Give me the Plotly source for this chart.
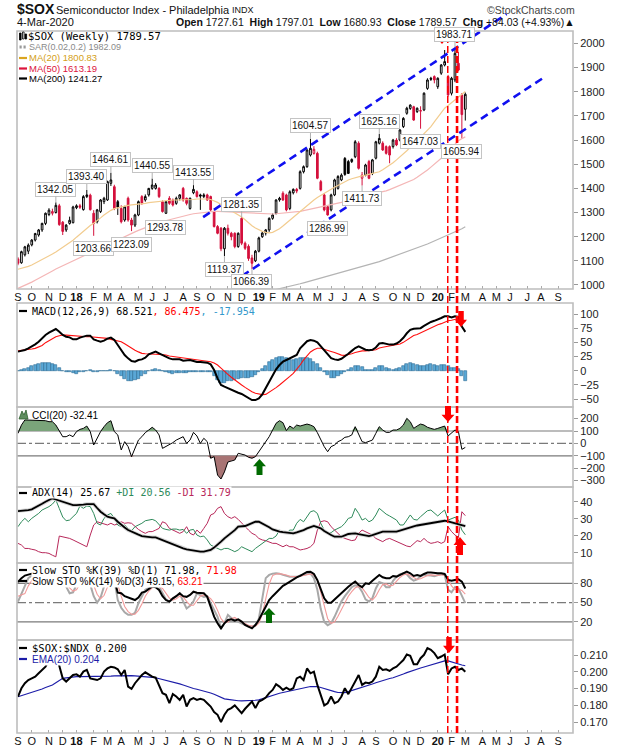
import plotly.graph_objects as go
import pandas as pd

N = 131
dates = pd.date_range("2017-09-04", periods=N, freq="7D")

opens = [1108,1092,1125,1140,1166,1186,1207,1228,1255,1292,
         1297,1300,1328,1260,1228,1255,1258,1320,1328,1312,
         1366,1372,1297,1262,1304,1345,1352,1421,1407,1345,
         1317,1269,1359,1269,1248,1290,1366,1352,1373,1400,
         1400,1400,1345,1297,1359,1352,1338,1359,1400,1359,
         1317,1382,1386,1373,1366,1373,1366,1304,1242,1235,
         1150,1235,1214,1214,1159,1276,1173,1160,1112,1100,
         1140,1200,1215,1228,1276,1297,1352,1380,1373,1317,
         1382,1396,1400,1469,1490,1538,1545,1545,1428,1373,
         1324,1311,1373,1400,1435,1524,1511,1511,1531,1587,
         1442,1455,1511,1462,1525,1587,1587,1573,1573,1573,
         1600,1600,1656,1711,1731,1738,1718,1720,1725,1814,
         1856,1863,1821,1877,1911,1863,1794,1849,1918,1787,
         1727.61]
highs = [1115,1142,1162,1172,1190,1216,1232,1258,1300,1318,
         1316,1342.05,1336,1265,1252,1283,1328,1334,1336,1372,
         1393.40,1378,1310,1315,1356,1365,1432,1464.61,1415,1352,
         1330,1328,1366,1278,1295,1350,1372,1375,1402,1440.55,
         1422,1405,1350,1348,1368,1358,1366,1376,1406,1362,
         1362,1413.55,1392,1378,1380,1378,1370,1308,1248,1240,
         1240,1250,1220,1218,1218,1281.35,1180,1168,1125,1145,
         1200,1222,1232,1280,1296,1355,1365,1388,1378,1392,
         1400,1402,1475,1495,1562,1604.57,1575,1552,1435,1380,
         1330,1378,1440,1455,1462,1530,1518,1524,1600,1595,
         1468,1502,1518,1522,1597,1625.16,1595,1578,1578,1605,
         1608,1645,1695,1738,1748,1742,1735,1740,1798,1856,
         1862,1868,1860,1915,1973,1870,1862,1983.71,1965,1795,
         1797.01]
lows = [1082,1088,1118,1128,1160,1180,1200,1220,1248,1285,
        1288,1296,1245,1207,1220,1250,1255,1314,1315,1308,
        1360,1308,1203.66,1255,1298,1335,1348,1410,1310,1290,
        1255,1262,1262,1223.09,1240,1285,1332,1345,1366,1394,
        1395,1360,1300,1293.78,1332,1325,1332,1350,1345,1330,
        1312,1376,1362,1311,1360,1348,1305,1238,1210,1140,
        1119.37,1205,1185,1152,1154,1165,1145,1100,1066.39,1095,
        1135,1195,1205,1220,1270,1292,1345,1348,1305,1310,
        1375,1380,1395,1462,1485,1532,1540,1438,1388,1305,
        1286.99,1305,1368,1395,1430,1452,1460,1505,1525,1478,
        1411.73,1450,1438,1455,1520,1582,1555,1540,1504,1565,
        1575,1595,1650,1705,1725,1680,1712,1647.03,1720,1808,
        1845,1835,1812,1870,1905,1780,1785,1840,1885,1605.94,
        1680.93]
closes = [1090,1138,1158,1165,1186,1213,1228,1255,1297,1310,
          1304,1330,1250,1222,1248,1268,1323,1328,1322,1366,
          1373,1312,1255,1311,1352,1359,1428,1435,1317,1322,
          1262,1324,1269,1248,1290,1345,1338,1366,1400,1414,
          1414,1366,1304,1345,1338,1331,1359,1373,1352,1338,
          1359,1396,1366,1368,1373,1352,1311,1242,1214,1150,
          1235,1214,1200,1159,1214,1173,1152,1110,1090,1140,
          1195,1215,1228,1276,1290,1352,1359,1352,1311,1386,
          1396,1389,1469,1490,1559,1566,1562,1442,1393,1311,
          1290,1373,1435,1449,1455,1458,1462,1520,1593,1483,
          1455,1497,1442,1518,1593,1607,1559,1545,1538,1600,
          1580,1642,1690,1732,1745,1683,1732,1722,1794,1849,
          1852,1849,1856,1911,1925,1787,1856,1959,1890,1705.54,
          1789.57]
ma20 = [1065,1068,1072,1077,1083,1090,1097,1105,1113,1120,
        1128,1137,1146,1155,1164,1173,1185,1198,1211,1223,
        1235,1246,1256,1266,1278,1290,1300,1309,1316,1320,
        1324,1327,1330,1332,1333,1334,1336,1338,1341,1343,
        1345,1347,1349,1350,1351,1352,1352,1352,1353,1353,
        1352,1354,1356,1357,1357,1356,1354,1349,1342,1333,
        1325,1316,1307,1298,1290,1282,1270,1257,1245,1236,
        1228,1222,1218,1216,1218,1224,1233,1244,1256,1268,
        1283,1294,1306,1318,1330,1341,1352,1362,1370,1377,
        1385,1396,1405,1413,1421,1428,1435,1440,1445,1450,
        1452,1455,1458,1462,1465,1469,1477,1486,1495,1506,
        1518,1530,1543,1556,1570,1587,1600,1612,1626,1640,
        1656,1675,1695,1714,1732,1743,1754,1766,1778,1788,
        1800.83]
ma50 = [986,992,998,1005,1012,1020,1027,1035,1042,1050,
        1058,1066,1073,1080,1086,1092,1099,1106,1113,1120,
        1127,1134,1140,1146,1153,1159,1166,1173,1180,1186,
        1193,1199,1206,1213,1220,1226,1232,1238,1244,1250,
        1255,1259,1263,1267,1271,1275,1279,1283,1286,1289,
        1292,1295,1297,1299,1301,1303,1304,1305,1305,1305,
        1305,1304,1303,1302,1301,1300,1299,1298,1297,1296,
        1295,1294,1294,1294,1294,1295,1296,1297,1298,1300,
        1301,1303,1305,1308,1311,1314,1317,1320,1322,1325,
        1327,1330,1334,1338,1342,1347,1352,1356,1360,1364,
        1368,1371,1374,1377,1379,1381,1385,1390,1395,1401,
        1407,1413,1419,1425,1430,1437,1446,1455,1465,1476,
        1488,1500,1512,1525,1540,1555,1570,1584,1597,1606,
        1613.19]
ma200 = [None] * 74 + [978,981,984,987,990,994,998,1001,1005,1009,
                       1013,1017,1021,1025,1029,1033,1037,1041,1044,1048,
                       1051,1055,1058,1062,1066,1070,1074,1078,1082,1087,
                       1092,1097,1102,1107,1112,1117,1122,1127,1132,1138,
                       1143,1148,1154,1159,1165,1170,1176,1182,1188,1194,
                       1200,1206,1212,1218,1225,1233,1241.27]
macd_line = [33.6,34.7,36.5,39.4,42.4,46.5,51.2,57.1,63.0,67.0,
             70.6,73.5,68.8,63.0,60.0,58.8,55.3,55.3,58.3,60.0,
             61.8,61.8,55.3,53.0,51.2,53.0,56.5,58.3,54.1,45.3,
             35.3,27.7,21.8,17.1,15.9,18.9,20.0,23.0,28.9,31.8,
             33.6,30.6,27.7,23.6,21.8,20.0,20.0,20.0,17.7,17.7,
             18.9,17.1,15.3,15.3,14.7,14.1,11.2,1.2,-13.5,-25.2,
             -28.2,-31.1,-34.0,-37.0,-38.8,-41.1,-44.6,-48.8,-51.7,-51.7,
             -48.8,-41.7,-31.1,-19.4,-7.6,2.4,10.0,15.9,18.9,21.8,
             23.6,27.7,39.4,45,52,54,53,50,43,36,
             28,22,20,19,21,25,30,35,40,43,
             40,37,36,37,41,48,49,47,46,46,
             48,52,58,66,72,74,74,75,79,83,
             86,88,90,93,96,96,94,96,95,78,
             68.521]
macd_signal = [35.3,35.8,36.5,37.3,38.3,39.4,41.5,44.5,49.4,52.8,
               56.5,60.0,61.8,63.0,62.8,62.2,61.2,60.8,60.5,60.2,
               60.0,59.8,59.4,58.9,58.3,57.7,57.0,55.3,54.2,52.8,
               51.2,47.5,43.5,39.4,36.2,33.2,30.6,29.8,29.2,28.9,
               28.9,28.8,28.5,27.8,25.9,25.0,24.0,23.0,21.8,21.0,
               20.5,19.7,18.9,18.3,17.6,16.8,15.9,13.5,10.0,4.5,
               -1.7,-6.6,-11.6,-16.5,-20.9,-25.2,-29.4,-33.5,-37.0,-39.8,
               -41.7,-42.2,-41.7,-38.2,-34.0,-29.8,-25.2,-20.5,-15.2,-10.0,
               -4.7,2.5,10.0,19,27,33,37,39.5,39.5,38,
               36,34,32,29.5,27.5,27,28,30,32,34,
               35,35,35,36,37,40,41.5,42.5,43,44,
               45,47,50,54,59,62,64,67,70,73,
               75,78,81,83,86,88,89,91,92,88,
               86.475]
macd_hist = [0,1.5,3,4.7,7.5,10,12,13.5,13.5,13.5,
             12,10,4.7,0,-1.5,-2.5,-4,-5,-3,-1.5,
             0,1.5,-1.5,-2.5,-1,0,0,2,-1,-5,
             -10,-14,-17.6,-19,-17,-14.7,-10,-5,-1,2,
             3.5,1.5,-0.5,-3,-4,-5,-4,-3.5,-4,-4,
             -3,-3,-3,-2.5,-2,-1.5,-3,-9,-16,-22,
             -21,-19,-18,-16,-15,-13,-12,-12,-11,-7,
             -3,3,9,14.7,19,22,23.6,23.6,22,20,
             19,20,22,22,22,20,16,11,4,-2,
             -8,-12,-12,-10,-6,-2,2,5,8,9,
             6,2,1,1,4,8,8,5,3,2,
             3,5,8,12,13,12,10,8,9,10,
             11,10,9,10,10,8,5,5,3,-10,
             -17.954]
cci20 = [81,148,189,189,189,189,189,189,183,175,
         175,148,95,54,54,68,54,95,113,121,
         140,95,-13,41,95,135,167,183,95,68,
         -53,14,-26,-107,-40,27,54,87,108,130,
         108,68,-40,-26,-13,6,27,41,54,0,
         27,89,60,0,41,14,-120,-107,-255,-287,
         -230,-150,-140,-134,-80,-86,-94,-112,-120,-107,
         -67,-26,14,54,108,162,183,167,103,140,
         121,148,140,148,156,148,135,87,27,-26,
         -67,-26,-13,14,27,49,54,68,135,68,
         14,6,14,27,81,135,108,89,89,108,
         108,121,148,202,175,121,140,156,148,130,
         121,113,121,130,140,60,81,108,95,-48,
         -32.41]
adx14 = [34.5,34.6,34.7,35.1,35.5,36.5,37.5,38.8,40,41,
         42,41.3,40.6,39.8,39,38.5,38,38,38,38.3,
         38.6,38.6,38.6,36.3,34.1,32.6,31.2,30.7,30.2,28.2,
         26.3,24.8,23.3,22.3,21.4,20.6,19.8,19.4,19,19,
         19,18.2,17.5,16.5,15.5,14.7,13.9,13.2,12.5,12,
         11.6,11.1,10.6,10.6,10.6,11.1,11.6,13,14.5,16.5,
         18.4,19.9,21.4,23.3,25.3,25.5,25.7,26.5,27.3,28.2,
         28.2,27.2,26.3,25,23.7,23,22.4,22.1,21.8,21.6,
         21.4,21.9,22.4,23.3,24.3,25,25.7,25,24.3,22.8,
         21.4,20.4,19.4,19.4,19.4,20.2,21,21.2,21.4,20.9,
         20.4,20.1,19.8,20.4,21,21.7,22.4,22.4,22.4,22.4,
         22.4,23,23.7,24.3,25,25.5,26,26.4,26.8,27.2,
         27.6,28,28.3,28.6,28.8,28.4,27.8,27.2,26.6,26.1,
         25.67]
plus_di = [25.3,28.2,30.2,28.2,30.2,31.6,33.1,35.1,36.1,37.1,
           38.6,41,36,31,28.8,29.2,31.2,33.1,37.5,36.1,
           37.5,37.1,33.1,27.3,26.3,30.2,32.2,33.1,30.2,26.3,
           25.3,26.3,24.3,22.9,25.3,26.3,27.3,28.8,29.2,29.6,
           28.8,26.3,24.3,23.7,23.3,23.9,23.9,23.3,23.7,21.4,
           23.3,23.7,20.4,19.4,19.8,17.5,14.5,13.5,12.5,11.6,
           12.5,12.5,11.6,10.6,11.6,13.5,12.5,11.6,10.6,12.5,
           13.9,15.5,16.5,18.4,18.4,19.8,23.3,22.4,21.4,23.3,
           23.3,27.3,29.6,28.2,31.2,34.1,34.7,33.1,27.3,23.3,
           21.4,21.8,23.3,24.3,25.3,27.3,30.2,30.8,36.1,33.1,
           29.2,30.2,28.2,29.2,32.2,36.1,34.1,32.7,31.6,30.2,
           29.2,26.3,26.3,29.2,32.2,29.6,29.2,31.2,33.1,34.7,
           35.1,33.1,31.6,33.5,35.1,29.2,30.2,30.8,29.2,23.3,
           20.56]
minus_di = [15.5,14.5,12.5,12.5,12,11.6,10.6,10,10,9.6,
            8.5,7.6,19.8,19.4,19.0,18.4,17.5,16.5,15.5,14.5,
            13.5,20.4,26.3,28.2,27.6,27.3,26.3,27.3,26.3,26.9,
            28.2,27.3,27.6,27.3,25.3,23.7,22.4,21.4,22.4,22.4,
            23.3,24.3,28.2,27.3,24.3,23.3,22.4,21.4,22.4,25.3,
            21.4,20.4,23.3,21.4,24.3,27.3,32.2,33.1,36.1,37.1,
            33.1,31.2,30.2,31.2,29.6,27.3,25.3,23.3,21.4,20.4,
            18.4,17.5,17.1,16.5,15.5,15.5,14.5,13.5,14.5,13.5,
            13.5,12.5,11.6,12,12.5,13.5,15.5,23.3,28.2,28.8,
            28.2,25.3,23.3,21,19.4,18.4,17.8,17.1,17.5,21.4,
            23.3,22.4,21.4,20.4,18.4,17.5,16.5,17.8,18.4,17.5,
            16.5,15.5,14.5,13.9,13.5,15.5,17.1,16.5,18.4,16.5,
            15.5,15.9,16.5,15.5,16.5,25.3,22.4,20.4,19,34.1,
            31.79]
sto39_k = [82,88,92,94,95,96,97,97,98,97,
           95,96,88,82,84,86,90,92,91,94,
           95,86,80,84,88,90,95,96,85,65.5,
           64.5,60,58,55,54,58,65.5,67,70.7,75,
           74,69.6,60,54,51.5,56.7,60,64.5,60,59,
           62,67,65.5,64.5,64.5,59,43.8,28.2,17.9,10,
           17.9,23,24,22,24,20.5,15.3,12.7,10,15.3,
           23,33.4,43.8,54,60,65.5,72,76,79,82.6,
           86.2,89.3,91.4,94.5,97.6,98,94.5,85,72,56.7,
           50,50,55,60,65.5,70.7,74.8,79,82.6,77.4,
           74,80,79,84,89.3,93,89.3,87.8,87.8,91.4,
           90.4,93,96.6,98,95.5,91.4,93,91.4,94.5,96.6,
           96.6,95.5,95.5,95.5,94.5,85.2,84,85.2,86.2,82.6,
           71.98]
sto14_k = [51.5,64.5,75,88,92,95,96,98,97,95,
           96,90,85,80,75,64.5,66,78,90,95,
           92,78,60,50,58,75,90,95,85,54,
           42,35,31,31,34,49,60,70,73,75,
           76,75,64.5,55,51.5,56,60,64.5,52,41,
           45,52,64.5,62,59,60,49,38,28,10,
           18,31,26,23,20.5,18,15,12.7,12.7,15,
           25,55,88,93,95,95.5,95,93,91,90,
           90,90,92,93,95,95.5,88,70,40,20,
           15,18,28,40,52,60,67,74,77,75,
           67,55,51.5,57,72,82,80,74,74,84,
           90,94,95.5,94,88,84,86,91,93,93,
           92,91,93,94.5,93,70,66,74,72,60,
           49.15]
sto14_d = [60,62,64,76,85,92,94,96,97,97,
           96,94,90,85,80,73,68,70,78,88,
           92,88,77,63,56,61,74,87,90,78,
           60,44,36,32,32,38,48,60,68,73,
           75,75,72,65,57,54,56,60,59,52,
           46,46,54,60,62,60,56,49,38,25,
           19,20,25,27,23,20,18,15,13.5,13.5,
           18,32,56,79,92,94.5,95,94.5,93,91,
           90,90,91,92,93,94.5,93,85,66,43,
           25,18,20,29,40,50,60,67,73,75,
           73,66,58,54,60,70,78,79,76,77,
           83,89,93,94.5,92,89,86,87,90,92,
           93,92,92,93,93.5,86,76,70,71,69,
           63.21]
ratio = [.1852,.1902,.1932,.1951,.1961,.1971,.1991,.2011,.2030,.2070,
         .2099,.2110,.2041,.1961,.1942,.1961,.1981,.1985,.1971,.2001,
         .2011,.1961,.1957,.1951,.1961,.2001,.2020,.2030,.2026,.2015,
         .1981,.2011,.1912,.1898,.1932,.1955,.1981,.1997,.1985,.1971,
         .1965,.1922,.1873,.1863,.1813,.1867,.1853,.1833,.1863,.1793,
         .1833,.1843,.1833,.1839,.1833,.1813,.1793,.1760,.1744,.1700,
         .1744,.1774,.1784,.1800,.1774,.1754,.1780,.1803,.1823,.1784,
         .1823,.1833,.1847,.1873,.1892,.1926,.1912,.1892,.1906,.1892,
         .1902,.1961,.1971,.1951,.2020,.1991,.2001,.1922,.1863,.1800,
         .1813,.1853,.1813,.1823,.1853,.1902,.1867,.1902,.1942,.1981,
         .1922,.1936,.1932,.1942,.1971,.2030,.2011,.2015,.2005,.2020,
         .2030,.2050,.2070,.2103,.2095,.2045,.2045,.2081,.2101,.2141,
         .2131,.2111,.2081,.2091,.2103,.1985,.2020,.2030,.2011,.2020,
         .2000]
ratio_ema = [.1852,.1858,.1864,.1870,.1876,.1882,.1890,.1898,.1906,.1914,
             .1922,.1935,.1948,.1961,.1964,.1967,.1971,.1971,.1971,.1971,
             .1971,.1971,.1971,.1971,.1971,.1971,.1972,.1974,.1976,.1977,
             .1977,.1977,.1977,.1977,.1976,.1975,.1973,.1971,.1969,.1967,
             .1965,.1960,.1956,.1951,.1946,.1942,.1935,.1928,.1921,.1913,
             .1906,.1901,.1896,.1891,.1887,.1882,.1874,.1866,.1857,.1848,
             .1839,.1836,.1832,.1829,.1828,.1827,.1827,.1828,.1830,.1831,
             .1833,.1840,.1847,.1854,.1860,.1867,.1872,.1877,.1882,.1887,
             .1892,.1896,.1900,.1904,.1908,.1912,.1913,.1912,.1906,.1899,
             .1892,.1887,.1882,.1877,.1876,.1876,.1882,.1888,.1894,.1900,
             .1906,.1913,.1920,.1927,.1935,.1942,.1948,.1954,.1960,.1965,
             .1971,.1979,.1987,.1995,.2003,.2011,.2017,.2023,.2029,.2035,
             .2041,.2048,.2054,.2061,.2065,.2065,.2058,.2050,.2045,.2040,
             .2036]

for arr in [opens, highs, lows, closes, ma20, ma50, ma200, macd_line, macd_signal, macd_hist,
            cci20, adx14, plus_di, minus_di, sto39_k, sto14_k, sto14_d, ratio, ratio_ema]:
    assert len(arr) == N, len(arr)

high_label_idx = [11, 20, 27, 39, 51, 65, 85, 105, 127]
low_label_idx = [22, 33, 43, 60, 68, 90, 100, 117, 129]

chan_upper_wk = [53.8, 142.0]
chan_upper_px = [1281.0, 2122.0]
chan_lower_wk = [65.1, 152.6]
chan_lower_px = [1037.5, 1857.0]
signal_wk = [124.9, 127.6]

# ---------------- layout geometry ----------------
W, H = 620, 750
ML, MR, MT, MB = 17, 47, 12, 17
PW, PH = W - ML - MR, H - MT - MB


def fx(px):
    return (px - ML) / PW


def fy(py):
    return (H - MB - py) / PH


def wk(i):
    return dates[0] + pd.Timedelta(days=7 * i)


RED = "#d4103c"
SANS = "Liberation Sans, Arial, sans-serif"
MONO = "DejaVu Sans Mono, monospace"

dom = {
    "main": [fy(289), 1.0],
    "macd": [fy(407), fy(303)],
    "cci": [fy(487), fy(407)],
    "adx": [fy(563), fy(487)],
    "sto": [fy(640), fy(563)],
    "ratio": [0.0, fy(640)],
}

fig = go.Figure()

# ---------------- main candles ----------------
prev = [opens[0]] + closes[:-1]
groups = {
    ("up", True): ("black", "white"),
    ("up", False): (RED, "white"),
    ("dn", False): (RED, RED),
    ("dn", True): ("black", "black"),
}
for (d, blk), (lc, fc) in groups.items():
    mask = [((c >= o) == (d == "up")) and ((c >= p) == blk) for o, c, p in zip(opens, closes, prev)]
    sel = lambda a: [v if m else None for v, m in zip(a, mask)]
    sty = dict(line=dict(color=lc, width=1), fillcolor=fc)
    fig.add_trace(go.Candlestick(x=dates, open=sel(opens), high=sel(highs), low=sel(lows), close=sel(closes),
                                 increasing=sty, decreasing=sty, whiskerwidth=0, showlegend=False,
                                 xaxis="x", yaxis="y", hoverinfo="skip"))

fig.add_trace(go.Scatter(x=dates, y=ma200, mode="lines", line=dict(color="#b4b4b4", width=1.2),
                         xaxis="x", yaxis="y", showlegend=False))
fig.add_trace(go.Scatter(x=dates, y=ma50, mode="lines", line=dict(color="#f4b6b6", width=1.2),
                         xaxis="x", yaxis="y", showlegend=False))
fig.add_trace(go.Scatter(x=dates, y=ma20, mode="lines", line=dict(color="#f2cc8f", width=1.2),
                         xaxis="x", yaxis="y", showlegend=False))
for wks, pxs in [(chan_upper_wk, chan_upper_px), (chan_lower_wk, chan_lower_px)]:
    fig.add_trace(go.Scatter(x=[wk(w) for w in wks], y=pxs, mode="lines",
                             line=dict(color="#1010f0", width=2.6, dash="8px,5px"),
                             xaxis="x", yaxis="y", showlegend=False))

# ---------------- MACD ----------------
fig.add_trace(go.Bar(x=dates, y=macd_hist, width=6.3 * 86400000,
                     marker=dict(color="#5aa7d6", line=dict(color="#2a6a94", width=0.6)),
                     xaxis="x2", yaxis="y2", showlegend=False))
fig.add_trace(go.Scatter(x=dates, y=macd_signal, mode="lines", line=dict(color="#ff1010", width=1.1),
                         xaxis="x2", yaxis="y2", showlegend=False))
fig.add_trace(go.Scatter(x=dates, y=macd_line, mode="lines", line=dict(color="black", width=2),
                         xaxis="x2", yaxis="y2", showlegend=False))

# ---------------- CCI ----------------
cci_hi = [max(v, 100) for v in cci20]
cci_lo = [min(v, -100) for v in cci20]
fig.add_trace(go.Scatter(x=dates, y=[100] * N, mode="lines", line=dict(width=0), xaxis="x3", yaxis="y3",
                         showlegend=False, hoverinfo="skip"))
fig.add_trace(go.Scatter(x=dates, y=cci_hi, mode="lines", line=dict(width=0), fill="tonexty",
                         fillcolor="#7aa47a", xaxis="x3", yaxis="y3", showlegend=False, hoverinfo="skip"))
fig.add_trace(go.Scatter(x=dates, y=[-100] * N, mode="lines", line=dict(width=0), xaxis="x3", yaxis="y3",
                         showlegend=False, hoverinfo="skip"))
fig.add_trace(go.Scatter(x=dates, y=cci_lo, mode="lines", line=dict(width=0), fill="tonexty",
                         fillcolor="#a87474", xaxis="x3", yaxis="y3", showlegend=False, hoverinfo="skip"))
fig.add_trace(go.Scatter(x=dates, y=cci20, mode="lines", line=dict(color="black", width=1),
                         xaxis="x3", yaxis="y3", showlegend=False))

# ---------------- ADX ----------------
fig.add_trace(go.Scatter(x=dates, y=minus_di, mode="lines", line=dict(color="#b8285a", width=1),
                         xaxis="x4", yaxis="y4", showlegend=False))
fig.add_trace(go.Scatter(x=dates, y=plus_di, mode="lines", line=dict(color="#2e8a5a", width=1),
                         xaxis="x4", yaxis="y4", showlegend=False))
fig.add_trace(go.Scatter(x=dates, y=adx14, mode="lines", line=dict(color="#d6d6d6", width=3.6),
                         xaxis="x4", yaxis="y4", showlegend=False))
fig.add_trace(go.Scatter(x=dates, y=adx14, mode="lines", line=dict(color="black", width=1.8),
                         xaxis="x4", yaxis="y4", showlegend=False))

# ---------------- Slow STO ----------------
fig.add_trace(go.Scatter(x=dates, y=sto14_k, mode="lines", line=dict(color="#a8a8a8", width=2),
                         xaxis="x5", yaxis="y5", showlegend=False))
fig.add_trace(go.Scatter(x=dates, y=sto14_d, mode="lines", line=dict(color="#f29a9a", width=1.1),
                         xaxis="x5", yaxis="y5", showlegend=False))
fig.add_trace(go.Scatter(x=dates, y=sto39_k, mode="lines", line=dict(color="black", width=2),
                         xaxis="x5", yaxis="y5", showlegend=False))

# ---------------- Ratio ----------------
fig.add_trace(go.Scatter(x=dates, y=ratio_ema, mode="lines", line=dict(color="#1c1ca8", width=1.1),
                         xaxis="x6", yaxis="y6", showlegend=False))
fig.add_trace(go.Scatter(x=dates, y=ratio, mode="lines", line=dict(color="black", width=2),
                         xaxis="x6", yaxis="y6", showlegend=False))

# ---------------- axes ----------------
months = pd.date_range("2017-09-01", "2020-09-01", freq="MS")
tickvals = [m + pd.Timedelta(days=(7 - m.weekday()) % 7) for m in months]
ticktext = [f"<b>{m.strftime('%y')}</b>" if m.month == 1 else "JFMAMJJASOND"[m.month - 1] for m in months]
xrange_ = [wk(-0.29), wk(161.3)]

xbase = dict(range=xrange_, showgrid=False, zeroline=False, showline=False, type="date")
ybase = dict(side="right", showgrid=False, zeroline=False, showline=False, ticks="outside", ticklen=4,
             tickcolor="#999999", tickfont=dict(family=SANS, size=11, color="#222222"))
xlab = dict(tickmode="array", tickvals=tickvals, ticktext=ticktext, ticks="inside", ticklen=3,
            tickcolor="#aaaaaa", tickfont=dict(family=SANS, size=11, color="#111111"))

layout = dict(
    width=W, height=H, margin=dict(l=ML, r=MR, t=MT, b=MB),
    paper_bgcolor="white", plot_bgcolor="white", showlegend=False, template="none",
    xaxis=dict(**xbase, **xlab, anchor="y", rangeslider=dict(visible=False)),
    yaxis=dict(**ybase, domain=dom["main"], range=[983.4, 2130.4], anchor="x",
               tickvals=list(range(1000, 2001, 100))),
    bargap=0,
)
panels = [("macd", [-64.0, 119.4], [-50, -25, 0, 25, 50, 75, 100], None),
          ("cci", [-351.6, 293.5], [-300, -200, -100, 0, 100, 200], None),
          ("adx", [3.94, 48.65], [10, 20, 30, 40], None),
          ("sto", [-8.0, 111.5], [20, 50, 80], None),
          ("ratio", [0.16357, 0.21893], [0.17, 0.18, 0.19, 0.20, 0.21], ".3f")]
for k, (name, rng, tv, fmt) in enumerate(panels, start=2):
    xa = dict(**xbase, matches="x", anchor=f"y{k}")
    if name == "ratio":
        xa.update(xlab)
    else:
        xa.update(showticklabels=False, ticks="")
    layout[f"xaxis{k}"] = xa
    ya = dict(**ybase, domain=dom[name], range=rng, anchor=f"x{k}", tickvals=tv)
    if fmt:
        ya["tickformat"] = fmt
    layout[f"yaxis{k}"] = ya
fig.update_layout(**layout)

# ---------------- shapes ----------------
shapes = []
for yref, val, dash in [("y3", 100, "solid"), ("y3", -100, "solid"), ("y3", 0, "dashdot"),
                        ("y5", 80, "solid"), ("y5", 20, "solid"), ("y5", 50, "dashdot")]:
    shapes.append(dict(type="line", xref="paper", yref=yref, x0=0, x1=1, y0=val, y1=val, layer="below",
                       line=dict(color="#7a7a7a", width=1.2, dash=dash)))
for y0, y1 in [(dom["main"][0], fy(31)), dom["macd"], dom["cci"], dom["adx"], dom["sto"], dom["ratio"]]:
    shapes.append(dict(type="rect", xref="paper", yref="paper", x0=0, x1=1, y0=y0, y1=y1,
                       line=dict(color="#bdbdbd", width=1.6), fillcolor="rgba(0,0,0,0)", layer="above"))
for w_, lw in zip(signal_wk, [1.5, 2.6]):
    shapes.append(dict(type="line", xref="x", yref="paper", x0=wk(w_), x1=wk(w_), y0=0, y1=fy(27),
                       line=dict(color="#ff0000", width=lw, dash="7px,3px"), layer="above"))


def arrow(cx, y0, y1, w, color, up=False):
    sw = w * 0.46
    hh = (y1 - y0) * 0.45
    if not up:
        pts = [(cx - sw / 2, y0), (cx + sw / 2, y0), (cx + sw / 2, y1 - hh), (cx + w / 2, y1 - hh), (cx, y1),
               (cx - w / 2, y1 - hh), (cx - sw / 2, y1 - hh)]
    else:
        pts = [(cx, y0), (cx + w / 2, y0 + hh), (cx + sw / 2, y0 + hh), (cx + sw / 2, y1), (cx - sw / 2, y1),
               (cx - sw / 2, y0 + hh), (cx - w / 2, y0 + hh)]
    path = "M " + " L ".join(f"{fx(a):.5f},{fy(b):.5f}" for a, b in pts) + " Z"
    return dict(type="path", path=path, xref="paper", yref="paper", fillcolor=color,
                line=dict(width=0), layer="above")


shapes += [arrow(442, 28, 44, 12, "#ff0000"),
           arrow(461, 311, 327, 12, "#ff0000"),
           arrow(448, 406, 422, 13, "#ff0000"),
           arrow(460, 537, 555, 13, "#ff0000", up=True),
           arrow(449, 637, 653, 12, "#ff0000"),
           arrow(259.5, 459, 475, 13, "#006a00", up=True),
           arrow(269, 608, 623, 13, "#006a00", up=True)]


def hline(x0, x1, y, color, w=2.2):
    return dict(type="line", xref="paper", yref="paper", x0=fx(x0), x1=fx(x1), y0=fy(y), y1=fy(y),
                line=dict(color=color, width=w), layer="above")


shapes += [hline(19, 27, 58, "#daa520"), hline(19, 27, 68.5, "#dc143c"), hline(19, 27, 78.5, "black"),
           hline(19, 27, 311, "black"), hline(19, 27, 493, "black"), hline(19, 27, 570, "black"),
           hline(19, 27, 581, "black"), hline(19, 27, 648, "black"), hline(19, 27, 659, "#1c1ca8")]
for xx in (19.5, 23.5):
    shapes.append(dict(type="rect", xref="paper", yref="paper", x0=fx(xx), x1=fx(xx + 2.2), y0=fy(48.5),
                       y1=fy(45.5), fillcolor="#9a9a9a", line=dict(width=0), layer="above"))
for xx, ya, yb, fc in [(19.5, 33, 40, "black"), (22.5, 32, 39, "white"), (25, 34, 39, "black")]:
    shapes.append(dict(type="rect", xref="paper", yref="paper", x0=fx(xx), x1=fx(xx + 1.6), y0=fy(yb),
                       y1=fy(ya), fillcolor=fc, line=dict(color="black", width=0.8), layer="above"))
shapes.append(dict(type="path", xref="paper", yref="paper",
                   path="M {:.5f},{:.5f} L {:.5f},{:.5f} L {:.5f},{:.5f} L {:.5f},{:.5f} L {:.5f},{:.5f} Z".format(
                       fx(19), fy(419), fx(22), fy(411), fx(24), fy(415), fx(26), fy(410), fx(28), fy(419)),
                   fillcolor="#5e8e5e", line=dict(color="#2f5f2f", width=0.8), layer="above"))
fig.update_layout(shapes=shapes)

# ---------------- annotations ----------------
ann = []


def txt(x, y, text, size=11, family=SANS, color="#111111", xanchor="left", bg=None):
    d = dict(xref="paper", yref="paper", x=fx(x), y=fy(y), text=text, showarrow=False, xanchor=xanchor,
             yanchor="middle", font=dict(size=size, family=family, color=color), borderpad=0)
    if bg:
        d["bgcolor"] = bg
    ann.append(d)


txt(16, 8.5, "<b>$SOX</b>", size=14)
txt(55, 9.5, "Semiconductor Index - Philadelphia", size=11)
txt(231, 10, "INDX", size=9)
txt(576, 9.5, "©StockCharts.com", size=10.5, color="#444444", xanchor="right")
txt(16, 22.5, "4-Mar-2020", size=11)
txt(576, 22.5, "<b>Open</b> 1727.61  <b>High</b> 1797.01  <b>Low</b> 1680.93  <b>Close</b> 1789.57  "
               "<b>Chg</b> +84.03 (+4.93%)▲", size=10.5, xanchor="right")

txt(27, 36, "$SOX (Weekly) 1789.57", size=10.5, family=MONO, color="black")
txt(28, 47, "SAR(0.02,0.2) 1982.09", size=9, color="#8a8a8a")
txt(28, 58, "MA(20) 1800.83", size=9.5, color="#d4a017")
txt(28, 68.5, "MA(50) 1613.19", size=9.5, color="#dc143c")
txt(28, 78.5, "MA(200) 1241.27", size=9.5, color="black")

txt(31, 311, "MACD(12,26,9) 68.521<span style='color:#ff0000'>, 86.475</span>"
             "<span style='color:#3399cc'>, -17.954</span>", size=10, family=MONO, color="black", bg="white")
txt(31, 415, "CCI(20) -32.41", size=10, color="black")
txt(31, 493, "ADX(14) 25.67 <span style='color:#2e8a5a'>+DI 20.56</span> "
             "<span style='color:#b8285a'>-DI 31.79</span>", size=10, family=MONO, color="black", bg="white")
txt(31, 570, "Slow STO %K(39) %D(1) 71.98, <span style='color:#ff0000'>71.98</span>", size=10,
    family=MONO, color="black", bg="white")
txt(31, 581, "Slow STO %K(14) %D(3) 49.15, <span style='color:#ff0000'>63.21</span>", size=10,
    color="black", bg="white")
txt(31, 648, "$SOX:$NDX 0.200", size=10.5, family=MONO, color="black", bg="white")
txt(31, 659, "EMA(20) 0.204", size=10, color="#1c1ca8", bg="white")

for i in high_label_idx:
    ann.append(dict(xref="x", yref="y", x=dates[i], y=highs[i], text=f"{highs[i]:.2f}", showarrow=True,
                    ax=0, ay=-13, arrowhead=0, arrowwidth=1, arrowcolor="#b0b0b0", bgcolor="white",
                    bordercolor="#c4c4c4", borderwidth=1, borderpad=1,
                    font=dict(size=10, family=SANS, color="#111111")))
for i in low_label_idx:
    ann.append(dict(xref="x", yref="y", x=dates[i], y=lows[i], text=f"{lows[i]:.2f}", showarrow=True,
                    ax=0, ay=13, arrowhead=0, arrowwidth=1, arrowcolor="#b0b0b0", bgcolor="white",
                    bordercolor="#c4c4c4", borderwidth=1, borderpad=1,
                    font=dict(size=10, family=SANS, color="#111111")))
fig.update_layout(annotations=ann)

fig.write_html("out.html", config={"displayModeBar": False},
               post_script="document.body.style.margin='0px';document.body.style.padding='0px';")
